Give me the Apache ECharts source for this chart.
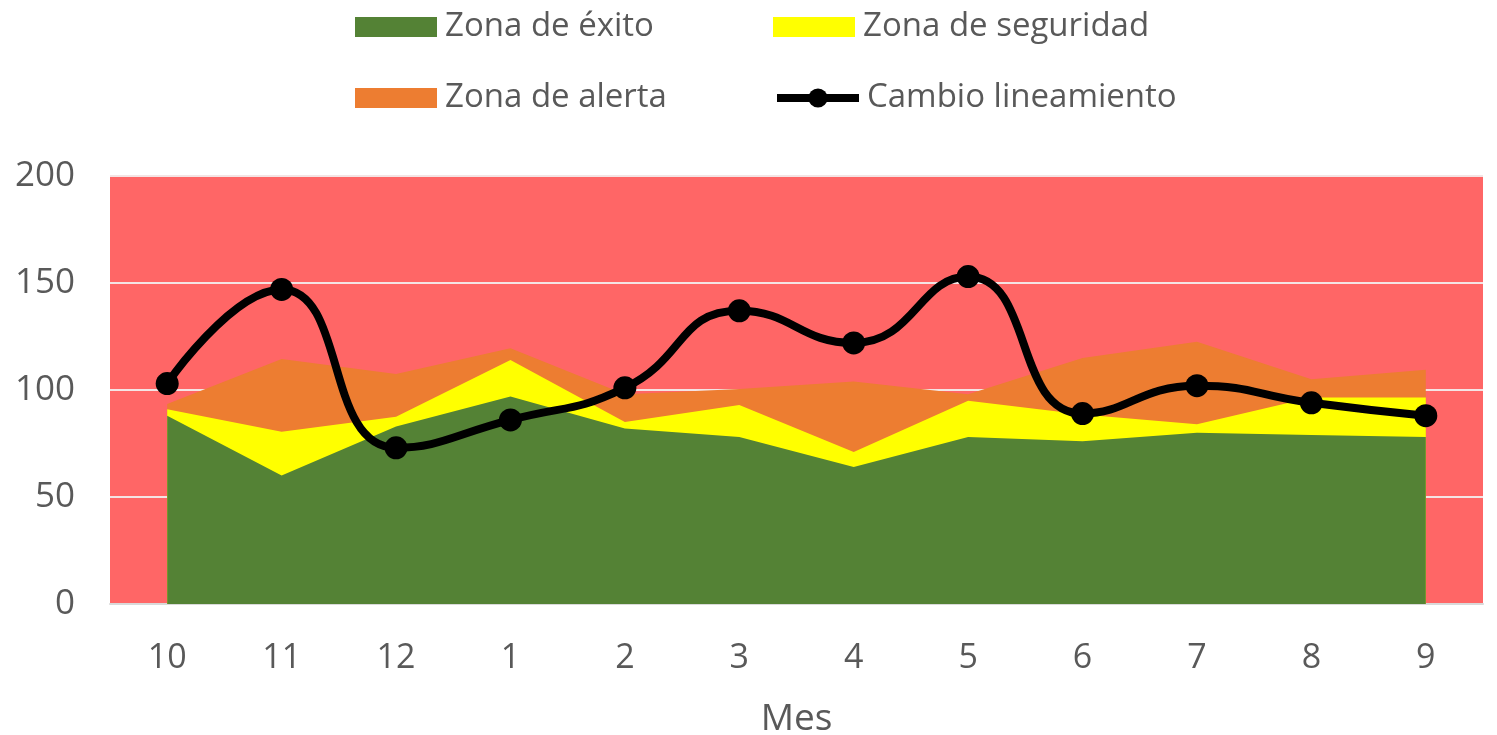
<!DOCTYPE html>
<html>
<head>
<meta charset="utf-8">
<script src="https://cdn.jsdelivr.net/npm/echarts@6/dist/echarts.min.js"></script>
<style>
  html, body { margin: 0; padding: 0; background: #fff; }
  #chart { width: 1497px; height: 735px; }
</style>
</head>
<body>
<div id="chart"></div>
<script>
// meses (eje X)
const meses = ['10', '11', '12', '1', '2', '3', '4', '5', '6', '7', '8', '9']
// límite superior de cada zona
const zonaExito = [88, 60, 83, 97, 82, 78, 64, 78, 76, 80, 79, 78]
const zonaSeguridad = [91, 80.5, 87.5, 114, 85, 93, 71, 95, 88.5, 84, 96.5, 96.5]
const zonaAlerta = [93.5, 114.5, 107.5, 119.5, 98, 100.5, 104, 98, 115, 122.5, 105, 109.5]
// cambio lineamiento
const cambio = [103, 147, 73, 86, 101, 137, 122, 153, 89, 102, 94, 88]
// etiquetas del eje Y
const yTicks = [0, 50, 100, 150, 200]

const fuente = 'Open Sans'
const gris = '#595959'

const chart = echarts.init(document.getElementById('chart'))

function leyenda(nombre, left, top, icon) {
  const l = {
    data: [nombre],
    left: left,
    top: top,
    padding: 0,
    itemWidth: 82,
    itemHeight: 20,
    itemGap: 0,
    selectedMode: false,
    textStyle: { fontFamily: fuente, fontSize: 33, color: gris, lineHeight: 38, padding: [0, 0, 0, 3] }
  }
  if (icon) {
    l.icon = icon
  } else {
    // icono de línea gruesa con marcador
    l.itemHeight = 24
    l.lineStyle = { width: 8 }
  }
  return l
}

function zona(nombre, datos, color) {
  return {
    name: nombre,
    type: 'line',
    data: datos,
    showSymbol: false,
    silent: true,
    lineStyle: { width: 0 },
    itemStyle: { color: color },
    areaStyle: { color: color, opacity: 1 }
  }
}

const option = {
  animation: false,
  legend: [
    leyenda('Zona de éxito', 355, 8, 'rect'),
    leyenda('Zona de seguridad', 773, 8, 'rect'),
    leyenda('Zona de alerta', 355, 79, 'rect'),
    leyenda('Cambio lineamiento', 773, 79)
  ],
  grid: {
    left: 110,
    right: 14,
    top: 176,
    bottom: 131,
    outerBoundsMode: 'none',
    containLabel: false,
    show: true,
    backgroundColor: '#FF6666',
    borderWidth: 0
  },
  xAxis: {
    type: 'category',
    data: meses,
    boundaryGap: true,
    name: 'Mes',
    nameLocation: 'middle',
    nameGap: 97,
    nameTextStyle: { fontFamily: fuente, fontSize: 37, color: gris },
    axisTick: { show: false },
    axisLine: { lineStyle: { color: '#D9D9D9', width: 2 } },
    axisLabel: { fontFamily: fuente, fontSize: 34, color: gris, margin: 37 }
  },
  yAxis: {
    type: 'value',
    min: yTicks[0],
    max: yTicks[yTicks.length - 1],
    interval: 50,
    axisLine: { show: false },
    axisTick: { show: false },
    axisLabel: { fontFamily: fuente, fontSize: 35, color: gris, margin: 35 },
    splitLine: { lineStyle: { color: '#F4E4E4', width: 2 } }
  },
  series: [
    zona('Zona de alerta', zonaAlerta, '#ED7D31'),
    zona('Zona de seguridad', zonaSeguridad, '#FFFF00'),
    zona('Zona de éxito', zonaExito, '#548235'),
    {
      name: 'Cambio lineamiento',
      type: 'line',
      data: cambio,
      smooth: true,
      symbol: 'circle',
      symbolSize: 23,
      itemStyle: { color: '#000000' },
      lineStyle: { color: '#000000', width: 8 },
      z: 5
    }
  ]
}

chart.setOption(option)
</script>
</body>
</html>
